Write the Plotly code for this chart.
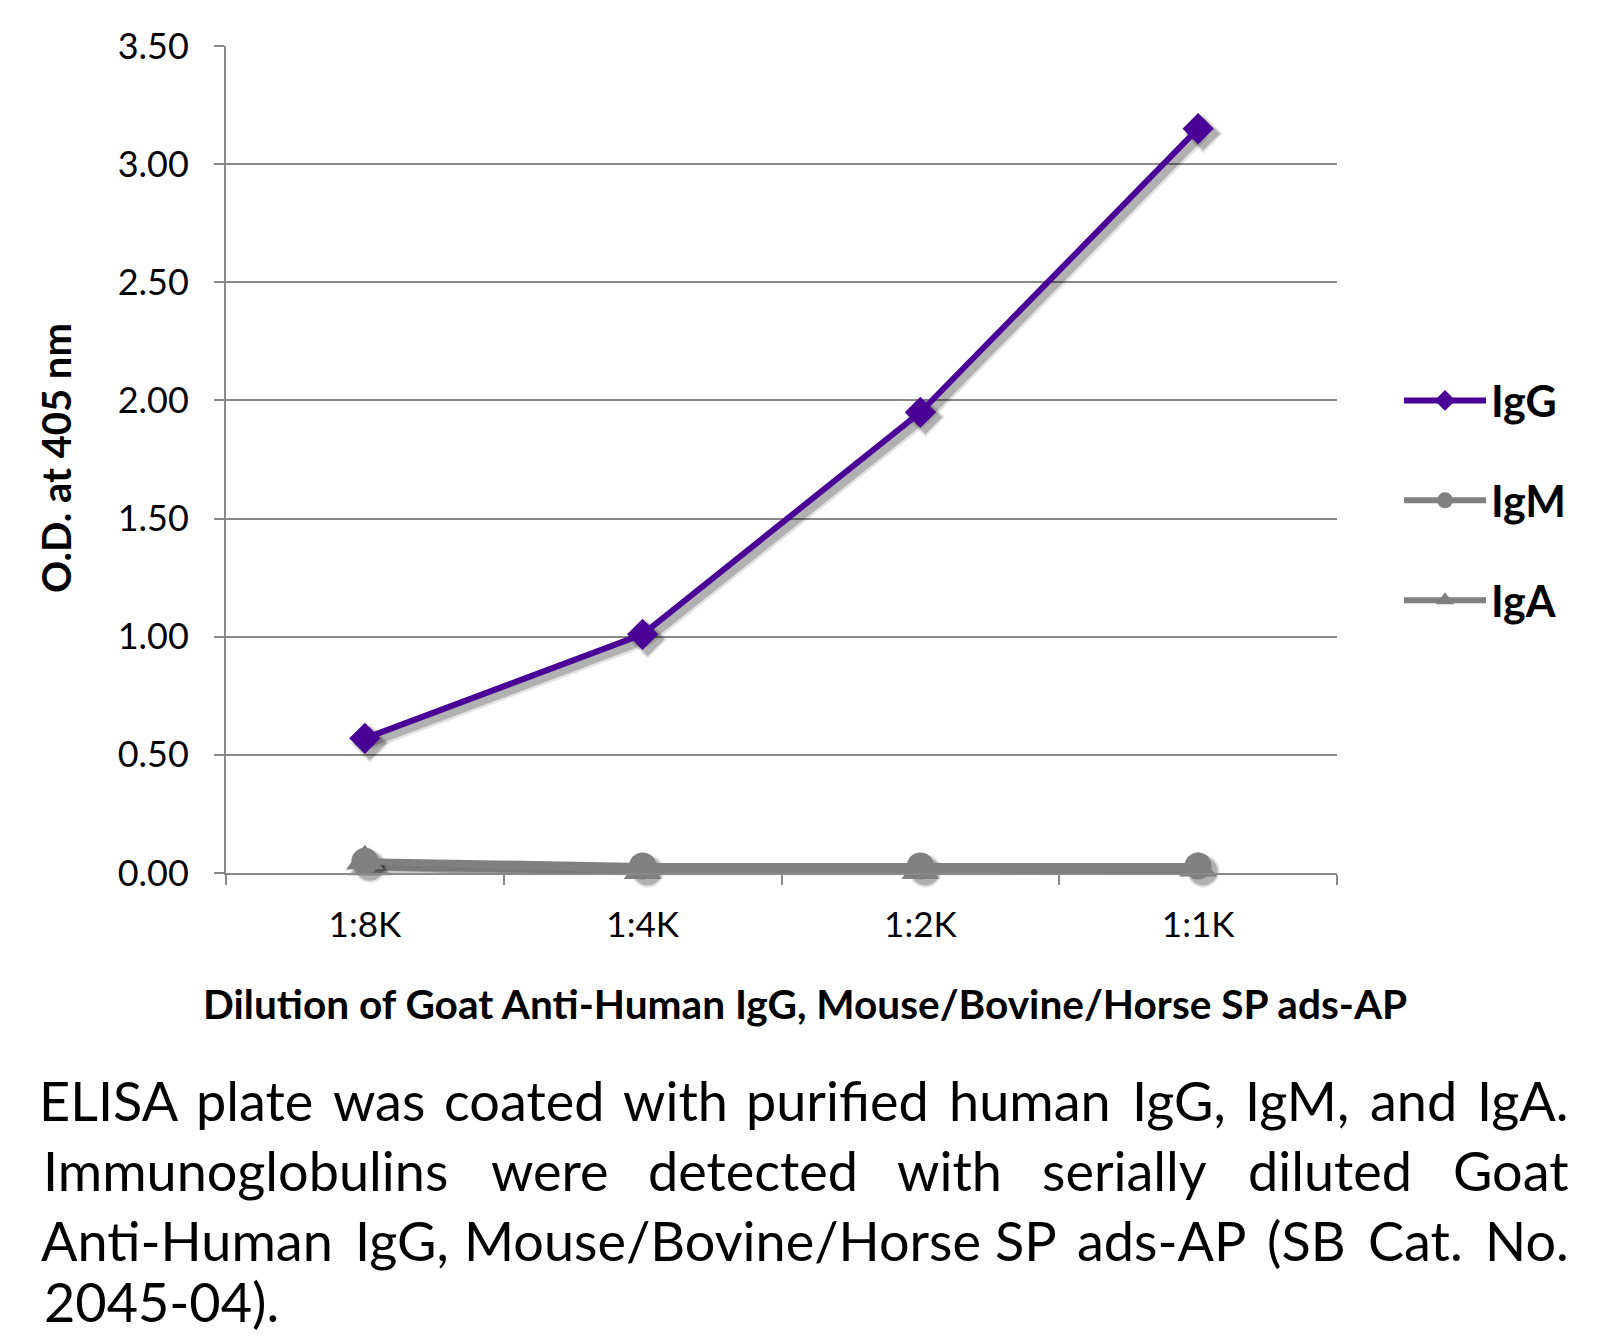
import plotly.graph_objects as go

# ---------------- data ----------------
dilutions = ["1:8K", "1:4K", "1:2K", "1:1K"]
igg = [0.57, 1.01, 1.95, 3.15]
igm = [0.05, 0.03, 0.03, 0.03]
iga = [0.05, 0.01, 0.01, 0.02]
y_ticks = [0.0, 0.5, 1.0, 1.5, 2.0, 2.5, 3.0, 3.5]

x_title = "Dilution of Goat Anti-Human IgG, Mouse/Bovine/Horse SP ads-AP"
y_title = "O.D. at 405 nm"
caption_lines = [
    "ELISA plate was coated with purified human IgG, IgM, and IgA.",
    "Immunoglobulins were detected with serially diluted Goat",
    "Anti-Human IgG, Mouse/Bovine/Horse SP ads-AP (SB Cat. No.",
    "2045-04).",
]

# ---------------- geometry (page px; page body has an 8px margin) ----------------
OFF = 8
W, H = 1605 - 2 * OFF, 1344 - 2 * OFF
L, R, T, B = 226 - OFF, 1337 - OFF, 46 - OFF, 873 - OFF
PURPLE = "#4A0096"
GREY = "#808080"
GRID = "#898989"
FONT = "Lato"
CAP_SIZE = 54


def px(x_page):
    return (x_page - OFF - L) / (R - L)


def py(y_page):
    return (B - (y_page - OFF)) / (B - T)


# approximate Lato advance widths (em) used to justify the caption
CW = {
    'a': .51, 'b': .56, 'c': .46, 'd': .56, 'e': .52, 'f': .32, 'g': .50, 'h': .56,
    'i': .24, 'j': .24, 'k': .49, 'l': .24, 'm': .85, 'n': .56, 'o': .56, 'p': .56,
    'q': .56, 'r': .36, 's': .42, 't': .34, 'u': .56, 'v': .50, 'w': .76, 'x': .48,
    'y': .50, 'z': .45, 'A': .67, 'B': .62, 'C': .66, 'D': .73, 'E': .54, 'G': .71,
    'H': .74, 'I': .28, 'L': .47, 'M': .90, 'N': .74, 'P': .58, 'S': .51,
    '.': .23, ',': .23, '-': .35, '/': .37, '(': .30, ')': .30, ':': .25,
}


def wwidth(w, size):
    return sum(CW.get(c, .58) for c in w) * size


# shadow offset in data units (5 px right / down)
sx = 5 / ((R - L) / 4)
sy = 5 / ((B - T) / 3.5)

fig = go.Figure()

# invisible trace so the visible category axis knows its categories
fig.add_trace(go.Scatter(x=dilutions, y=igg, mode="none", showlegend=False,
                         hoverinfo="skip", xaxis="x", yaxis="y"))

series = [
    ("IgG", igg, PURPLE, "diamond", 24),
    ("IgM", igm, GREY, "circle", 27),
    ("IgA", iga, GREY, "triangle-up", 33),
]

# soft drop shadows (two layers)
for width, alpha, extra in [(13, 0.11, 6), (8, 0.22, 2)]:
    for name, vals, col, sym, size in series:
        fig.add_trace(go.Scatter(
            x=dilutions, y=vals, mode="lines+markers", showlegend=False,
            hoverinfo="skip", xaxis="x2", yaxis="y2", cliponaxis=False,
            line=dict(color="rgba(0,0,0,%.2f)" % alpha, width=width),
            marker=dict(symbol=sym, size=size + extra, color="rgba(0,0,0,%.2f)" % alpha,
                        line=dict(width=0)),
        ))

# main series
for name, vals, col, sym, size in series:
    fig.add_trace(go.Scatter(
        x=dilutions, y=vals, name=name, mode="lines+markers",
        xaxis="x3", yaxis="y3", cliponaxis=False, legendgroup=name,
        line=dict(color=col, width=6),
        marker=dict(symbol=sym, size=size, color=col, line=dict(width=0)),
    ))

cat_axis = dict(type="category", categoryorder="array", categoryarray=dilutions)

annotations = [
    dict(text="<b>" + x_title + "</b>", x=px(805), y=py(1003), xref="paper", yref="paper",
         xanchor="center", yanchor="middle", showarrow=False,
         font=dict(family=FONT, size=40.6, color="black")),
    dict(text="<b>" + y_title + "</b>", x=px(56), y=py(458), xref="paper", yref="paper",
         xanchor="center", yanchor="middle", showarrow=False, textangle=-90,
         font=dict(family=FONT, size=40, color="black")),
]

# caption: justified lines, emulated word by word
line_y = [1100, 1170, 1240]
left_edge, right_edge = 42, 1568
for li, line in enumerate(caption_lines):
    words = line.split(" ")
    last = li == len(caption_lines) - 1
    if last:
        # last line: left aligned, sitting on the bottom edge of the figure
        annotations.append(dict(
            text=line, x=px(left_edge), y=py(1344 - OFF), xref="paper", yref="paper",
            xanchor="left", yanchor="bottom", showarrow=False,
            font=dict(family=FONT, size=CAP_SIZE, color="black")))
        continue
    widths = [wwidth(w, CAP_SIZE) for w in words]
    gap = (right_edge - left_edge - sum(widths)) / (len(words) - 1)
    xpos = left_edge
    for w, ww in zip(words, widths):
        annotations.append(dict(
            text=w, x=px(xpos + ww / 2), y=py(line_y[li]), xref="paper", yref="paper",
            xanchor="center", yanchor="middle", showarrow=False,
            font=dict(family=FONT, size=CAP_SIZE, color="black")))
        xpos += ww + gap

fig.update_layout(
    width=W, height=H,
    margin=dict(l=L, r=W - R, t=T, b=H - B, autoexpand=False),
    paper_bgcolor="white", plot_bgcolor="rgba(0,0,0,0)",
    font=dict(family=FONT, color="black"),
    showlegend=True,
    legend=dict(x=px(1399), y=py(366), xanchor="left", yanchor="top",
                font=dict(family=FONT, size=43, color="black", weight="bold"),
                tracegroupgap=41, itemwidth=82, bgcolor="rgba(0,0,0,0)",
                traceorder="grouped"),
    xaxis=dict(**cat_axis, range=[-0.5, 3.5], tickson="boundaries", ticks="outside",
               ticklen=10, tickwidth=2, tickcolor=GRID, showline=True, linecolor=GRID,
               linewidth=2, showgrid=False, zeroline=False, ticklabelstandoff=20,
               tickfont=dict(family=FONT, size=35, color="black")),
    yaxis=dict(range=[0, 3.5], tickvals=y_ticks, tickformat=".2f", ticks="outside",
               ticklen=10, tickwidth=2, tickcolor=GRID, showline=True, linecolor=GRID,
               linewidth=2, showgrid=True, gridcolor=GRID, gridwidth=2, zeroline=False,
               ticklabelstandoff=18, tickfont=dict(family=FONT, size=36, color="black")),
    xaxis2=dict(**cat_axis, range=[-0.5 - sx, 3.5 - sx], overlaying="x", visible=False),
    yaxis2=dict(range=[0 + sy, 3.5 + sy], overlaying="y", visible=False, anchor="x2"),
    xaxis3=dict(**cat_axis, range=[-0.5, 3.5], overlaying="x", visible=False),
    yaxis3=dict(range=[0, 3.5], overlaying="y", visible=False, anchor="x3"),
    annotations=annotations,
)

fig.write_html("out.html")
